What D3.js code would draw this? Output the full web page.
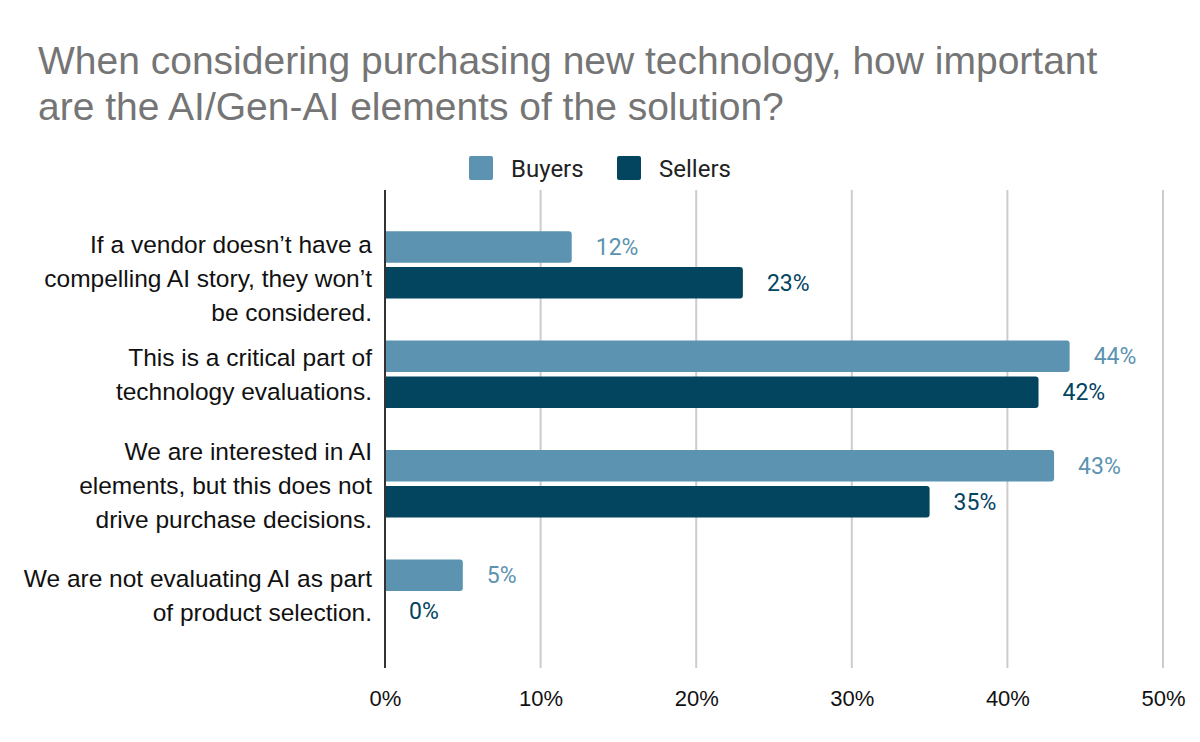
<!DOCTYPE html>
<html>
<head>
<meta charset="utf-8">
<script src="https://cdn.jsdelivr.net/npm/d3@7"></script>
<style>
  html, body { margin: 0; padding: 0; background: #fff; }
  svg { display: block; }
</style>
</head>
<body>
<svg id="chart" width="1200" height="742"></svg>
<script>
const titleLines = ["When considering purchasing new technology, how important", "are the AI/Gen-AI elements of the solution?"];
const categories = [
  ["If a vendor doesn\u2019t have a", "compelling AI story, they won\u2019t", "be considered."],
  ["This is a critical part of", "technology evaluations."],
  ["We are interested in AI", "elements, but this does not", "drive purchase decisions."],
  ["We are not evaluating AI as part", "of product selection."]
];
const seriesNames = ["Buyers", "Sellers"];
const buyers = [0.12, 0.44, 0.43, 0.05];
const sellers = [0.23, 0.42, 0.35, 0.00];
const tickValues = [0, 0.1, 0.2, 0.3, 0.4, 0.5];
const colors = ["#5b93b0", "#03445f"];

const svg = d3.select("#chart");
const catKeys = categories.map((c, i) => "c" + i);

const x = d3.scaleLinear().domain([0, 0.5]).range([385, 1163]);
const y0 = d3.scaleBand().domain(catKeys).range([189, 669]).paddingInner(0.385).paddingOuter(0.385);
const y1 = d3.scaleBand().domain(seriesNames).range([0, y0.bandwidth()]).paddingInner(0.12).paddingOuter(0);
const color = d3.scaleOrdinal().domain(seriesNames).range(colors);

// Title
const title = svg.append("text")
  .attr("font-family", "Arial, 'Liberation Sans', sans-serif")
  .attr("font-size", 39).attr("fill", "#757575");
titleLines.forEach((t, i) => title.append("tspan").attr("x", 38).attr("y", 74 + i * 46).text(t));

// Legend
const legend = svg.append("g");
const legendX = [469, 617];
seriesNames.forEach((s, i) => {
  legend.append("rect").attr("x", legendX[i]).attr("y", 156).attr("width", 24).attr("height", 24)
    .attr("rx", 2).attr("fill", color(s));
  legend.append("text").attr("x", legendX[i] + 42).attr("y", 177)
    .attr("font-family", "Roboto, Arial, sans-serif").attr("font-size", 24).attr("fill", "#222")
    .text(s);
});

// Gridlines
const gridTop = 190, gridBottom = 668;
svg.append("g").selectAll("line").data(tickValues.filter(d => d > 0)).join("line")
  .attr("x1", d => x(d)).attr("x2", d => x(d))
  .attr("y1", gridTop).attr("y2", gridBottom)
  .attr("stroke", "#cccccc").attr("stroke-width", 2);

// x axis tick labels
const xAxis = d3.axisBottom(x).tickValues(tickValues).tickFormat(d3.format(".0%")).tickSize(0).tickPadding(0);
const xg = svg.append("g").attr("transform", `translate(0,${gridBottom})`).call(xAxis);
xg.select(".domain").remove();
xg.selectAll("text")
  .attr("y", 38).attr("dy", null)
  .attr("font-family", "Arial, 'Liberation Sans', sans-serif").attr("font-size", 22).attr("fill", "#111");

// Bars
function barPath(x0, yTop, w, h, r) {
  if (w <= 0) return "";
  r = Math.min(r, w, h / 2);
  return `M${x0},${yTop}H${x0 + w - r}Q${x0 + w},${yTop} ${x0 + w},${yTop + r}V${yTop + h - r}Q${x0 + w},${yTop + h} ${x0 + w - r},${yTop + h}H${x0}Z`;
}
const rows = catKeys.map((k, i) => ({ key: k, values: [buyers[i], sellers[i]] }));
const groups = svg.append("g").selectAll("g").data(rows).join("g")
  .attr("transform", d => `translate(0,${y0(d.key)})`);
groups.selectAll("path").data(d => d.values.map((v, j) => ({ s: seriesNames[j], v })))
  .join("path")
  .attr("d", d => barPath(x(0), y1(d.s), x(d.v) - x(0), y1.bandwidth(), 3))
  .attr("fill", d => color(d.s));
groups.selectAll("text").data(d => d.values.map((v, j) => ({ s: seriesNames[j], v })))
  .join("text")
  .attr("x", d => x(d.v) + 24)
  .attr("y", d => y1(d.s) + y1.bandwidth() / 2)
  .attr("dy", "0.35em")
  .attr("font-family", "Roboto, Arial, sans-serif").attr("font-size", 23)
  .attr("fill", d => color(d.s))
  .text(d => d3.format(".0%")(d.v));

// Zero axis line
svg.append("line").attr("x1", x(0)).attr("x2", x(0)).attr("y1", gridTop).attr("y2", gridBottom)
  .attr("stroke", "#333").attr("stroke-width", 2);

// Category labels
const lineH = 34;
const labelShift = [14, 0, 2, 2];
const catG = svg.append("g");
categories.forEach((lines, i) => {
  const cy = y0(catKeys[i]) + y0.bandwidth() / 2 + labelShift[i];
  const t = catG.append("text")
    .attr("text-anchor", "end")
    .attr("font-family", "Arial, 'Liberation Sans', sans-serif").attr("font-size", 24.5).attr("fill", "#111");
  const start = cy - (lines.length - 1) * lineH / 2;
  lines.forEach((l, j) => t.append("tspan").attr("x", 372).attr("y", start + j * lineH).attr("dy", "0.35em").text(l));
});
</script>
</body>
</html>
